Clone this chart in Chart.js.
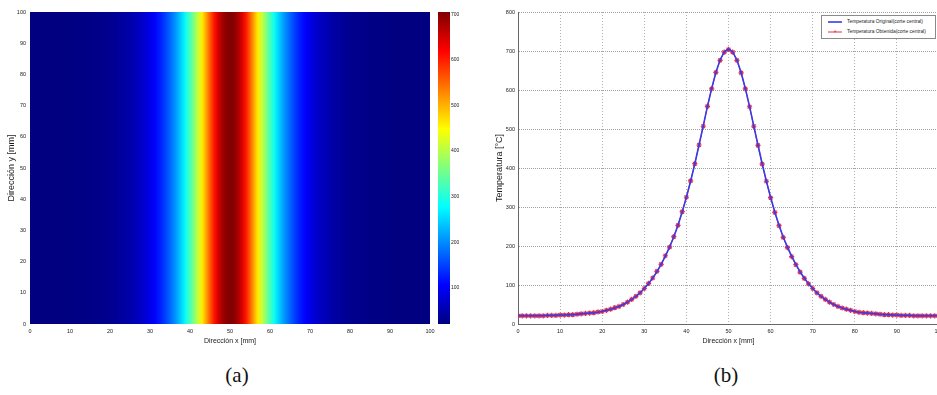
<!DOCTYPE html>
<html>
<head>
<meta charset="utf-8">
<script src="https://cdn.jsdelivr.net/npm/chart.js@4.4.1/dist/chart.umd.min.js"></script>
<style>
  html, body { margin: 0; padding: 0; background: #fff; width: 937px; height: 395px; overflow: hidden; position: relative; }
  canvas { position: absolute; top: 0; }
  #heatmap { left: 0; }
  #colorbar { left: 430px; }
  #profile { left: 480px; }
  .caption { position: absolute; top: 362px; width: 60px; text-align: center; color: #111;
             font-family: 'Liberation Serif', 'DejaVu Serif', serif; font-size: 21px; line-height: 26px; }
  #legend { position: absolute; left: 821px; top: 15px; width: 113px; height: 22px; background: #fff;
            border: 1px solid #8a8a8a; font-family: 'Liberation Sans', Arial, sans-serif;
            font-size: 4.9px; color: #222; }
  #legend .row { position: absolute; left: 5px; height: 8px; line-height: 8px; white-space: nowrap; }
  #legend svg { vertical-align: middle; margin-right: 4px; }
</style>
</head>
<body>
<canvas id="heatmap" width="470" height="350"></canvas>
<canvas id="colorbar" width="45" height="350"></canvas>
<canvas id="profile" width="470" height="350"></canvas>
<div id="legend"></div>
<div class="caption" style="left:207px">(a)</div>
<div class="caption" style="left:696px">(b)</div>

<script>
// Central cut: x position [mm] and temperature [°C]
const xPositions = [0,1,2,3,4,5,6,7,8,9,10,11,12,13,14,15,16,17,18,19,20,21,22,23,24,25,26,27,28,29,30,
  31,32,33,34,35,36,37,38,39,40,41,42,43,44,45,46,47,48,49,50,51,52,53,54,55,56,57,58,59,60,
  61,62,63,64,65,66,67,68,69,70,71,72,73,74,75,76,77,78,79,80,81,82,83,84,85,86,87,88,89,90,
  91,92,93,94,95,96,97,98,99,100];

const tempOriginal = [21,21,21,21,21,21,21,22,22,22,23,23,24,24,25,26,27,28,29,30,
  32,35,38,41,45,50,56,63,71,80,91,103,118,134,153,174,197,223,253,287,
  325,366,411,459,508,558,604,645,677,698,705,
  698,677,645,604,558,508,459,411,366,325,287,253,223,197,174,153,134,118,103,
  91,80,71,63,56,50,45,41,38,35,32,30,29,28,27,26,25,24,24,23,23,22,22,22,21,21,21,21,21,21,21];

const tempObtenida = [21,21,21,21,21,21,21,22,22,22,23,23,24,24,25,26,27,28,29,31,
  32,35,38,42,45,50,56,63,71,80,91,104,118,135,153,175,197,224,253,288,
  325,367,411,459,507,558,603,645,676,697,704,
  697,676,644,603,557,507,458,410,366,324,286,252,222,196,173,152,133,117,103,
  91,80,71,63,56,50,45,41,38,35,32,30,29,28,27,26,25,24,24,23,23,22,22,22,21,21,21,21,21,21,21];

const xTicks = [0,10,20,30,40,50,60,70,80,90,100];
const yDirTicks = [0,10,20,30,40,50,60,70,80,90,100];
const yDirRange = [0, 100];
const colorbarTicks = [100,200,300,400,500,600,700];
const tempTicks = [0,100,200,300,400,500,600,700,800];
const jetKnots = [0, 0.125, 0.375, 0.625, 0.875, 1];

const tMin = Math.min(...tempOriginal);
const tMax = Math.max(...tempOriginal);

const sans = "'Liberation Sans', Arial, sans-serif";
const tickFont = { family: sans, size: 5.5 };
const xTitleFont = { family: sans, size: 7 };
const yTitleFont = { family: sans, size: 9 };
const textColor = '#1a1a1a';

// MATLAB jet colormap
function jet(t) {
  t = Math.min(1, Math.max(0, t));
  const c = v => Math.round(255 * Math.min(1, Math.max(0, v)));
  return `rgb(${c(1.5 - Math.abs(4 * t - 3))},${c(1.5 - Math.abs(4 * t - 2))},${c(1.5 - Math.abs(4 * t - 1))})`;
}

const ticksFrom = arr => scale => { scale.ticks = arr.map(v => ({ value: v })); };

// (a) heat map: one column per x position, shaded by its temperature
let heatGrad = null;
function heatGradient(context) {
  const chart = context.chart;
  const area = chart.chartArea;
  if (!area) return null;
  if (heatGrad) return heatGrad;
  const xs = chart.scales.x;
  heatGrad = chart.ctx.createLinearGradient(area.left, 0, area.right, 0);
  xPositions.forEach((x, i) => {
    const stop = (xs.getPixelForValue(x) - area.left) / (area.right - area.left);
    heatGrad.addColorStop(Math.min(1, Math.max(0, stop)), jet((tempOriginal[i] - tMin) / (tMax - tMin)));
  });
  return heatGrad;
}

new Chart(document.getElementById('heatmap'), {
  type: 'bar',
  data: {
    datasets: [{
      data: xPositions.map(x => ({ x: x, y: yDirRange })),
      backgroundColor: heatGradient,
      borderWidth: 0,
      barPercentage: 1.05,
      categoryPercentage: 1,
      grouped: false
    }]
  },
  options: {
    responsive: false,
    animation: false,
    devicePixelRatio: 1,
    layout: { padding: { left: 0, right: 40, top: 12, bottom: 0 } },
    plugins: { legend: { display: false }, tooltip: { enabled: false } },
    scales: {
      x: {
        type: 'linear', min: 0, max: 100, offset: false,
        afterBuildTicks: ticksFrom(xTicks),
        afterFit: s => { s.height = 26; },
        ticks: { font: tickFont, color: textColor, padding: 4, maxRotation: 0 },
        grid: { display: false, drawTicks: false },
        border: { display: false },
        title: { display: true, text: 'Dirección x [mm]', font: xTitleFont, color: textColor, padding: { top: 0, bottom: 5 } }
      },
      y: {
        min: 0, max: 100,
        afterBuildTicks: ticksFrom(yDirTicks),
        afterFit: s => { s.width = 30; },
        ticks: { font: tickFont, color: textColor, padding: 4 },
        grid: { display: false, drawTicks: false },
        border: { display: false },
        title: { display: true, text: 'Dirección y [mm]', font: yTitleFont, color: textColor, padding: { top: 6.5, bottom: 0 } }
      }
    }
  }
});

// colour bar for (a)
function barGradient(context) {
  const chart = context.chart;
  if (!chart.chartArea) return null;
  const ys = chart.scales.y;
  const g = chart.ctx.createLinearGradient(0, ys.getPixelForValue(tMin), 0, ys.getPixelForValue(tMax));
  jetKnots.forEach(k => g.addColorStop(k, jet(k)));
  return g;
}

new Chart(document.getElementById('colorbar'), {
  type: 'bar',
  data: {
    labels: [''],
    datasets: [{ data: [[tMin, tMax]], backgroundColor: barGradient, borderWidth: 0, barPercentage: 1, categoryPercentage: 1 }]
  },
  options: {
    responsive: false,
    animation: false,
    devicePixelRatio: 1,
    layout: { padding: { left: 8, right: 0, top: 12, bottom: 26 } },
    plugins: { legend: { display: false }, tooltip: { enabled: false } },
    scales: {
      x: { display: false },
      y: {
        position: 'right', min: tMin, max: tMax,
        afterBuildTicks: ticksFrom(colorbarTicks),
        afterFit: s => { s.width = 25; },
        ticks: { font: { family: sans, size: 5 }, color: textColor, padding: 1 },
        grid: { display: false, drawTicks: false },
        border: { display: false }
      }
    }
  }
});

// (b) temperature profile along the central cut
const profileChart = new Chart(document.getElementById('profile'), {
  type: 'line',
  data: {
    datasets: [
      {
        label: 'Temperatura Original(corte central)',
        data: xPositions.map((x, i) => ({ x: x, y: tempOriginal[i] })),
        borderColor: '#3a3ae8',
        borderWidth: 1.6,
        pointRadius: 0,
        tension: 0
      },
      {
        label: 'Temperatura Obtenida(corte central)',
        data: xPositions.map((x, i) => ({ x: x, y: tempObtenida[i] })),
        borderColor: '#e0304c',
        borderWidth: 1,
        pointStyle: 'star',
        pointRadius: 2.6,
        pointBorderColor: '#e0304c',
        pointBorderWidth: 1.2,
        tension: 0
      }
    ]
  },
  options: {
    responsive: false,
    animation: false,
    devicePixelRatio: 1,
    layout: { padding: { left: 0, right: 11, top: 12, bottom: 0 } },
    plugins: { legend: { display: false }, tooltip: { enabled: false } },
    scales: {
      x: {
        type: 'linear', min: 0, max: 100,
        afterBuildTicks: ticksFrom(xTicks),
        afterFit: s => { s.height = 26; },
        ticks: { font: tickFont, color: textColor, padding: 4, maxRotation: 0 },
        grid: { color: '#b0b0b0', drawTicks: false },
        border: { display: true, color: '#666', width: 1, dash: [1, 2] },
        title: { display: true, text: 'Dirección x [mm]', font: xTitleFont, color: textColor, padding: { top: 0, bottom: 5 } }
      },
      y: {
        min: 0, max: 800,
        afterBuildTicks: ticksFrom(tempTicks),
        afterFit: s => { s.width = 38; },
        ticks: { font: tickFont, color: textColor, padding: 3 },
        grid: { color: '#a0a0a0', drawTicks: false },
        border: { display: true, color: '#666', width: 1, dash: [1, 1] },
        title: { display: true, text: 'Temperatura [°C]', font: yTitleFont, color: textColor, padding: { top: 14.5, bottom: 0 } }
      }
    }
  }
});

// legend box inside the plot, built from the chart's datasets
const legendBox = document.getElementById('legend');
profileChart.data.datasets.forEach((ds, i) => {
  const row = document.createElement('div');
  row.className = 'row';
  row.style.top = (2 + i * 10) + 'px';
  const marker = ds.pointRadius ? '<text x="8" y="5.6" font-size="7" text-anchor="middle" fill="' + ds.borderColor + '">*</text>' : '';
  row.innerHTML = '<svg width="16" height="6"><line x1="1" y1="3" x2="15" y2="3" stroke="' + ds.borderColor +
    '" stroke-width="' + ds.borderWidth + '"/>' + marker + '</svg>' + ds.label;
  legendBox.appendChild(row);
});
</script>
</body>
</html>
